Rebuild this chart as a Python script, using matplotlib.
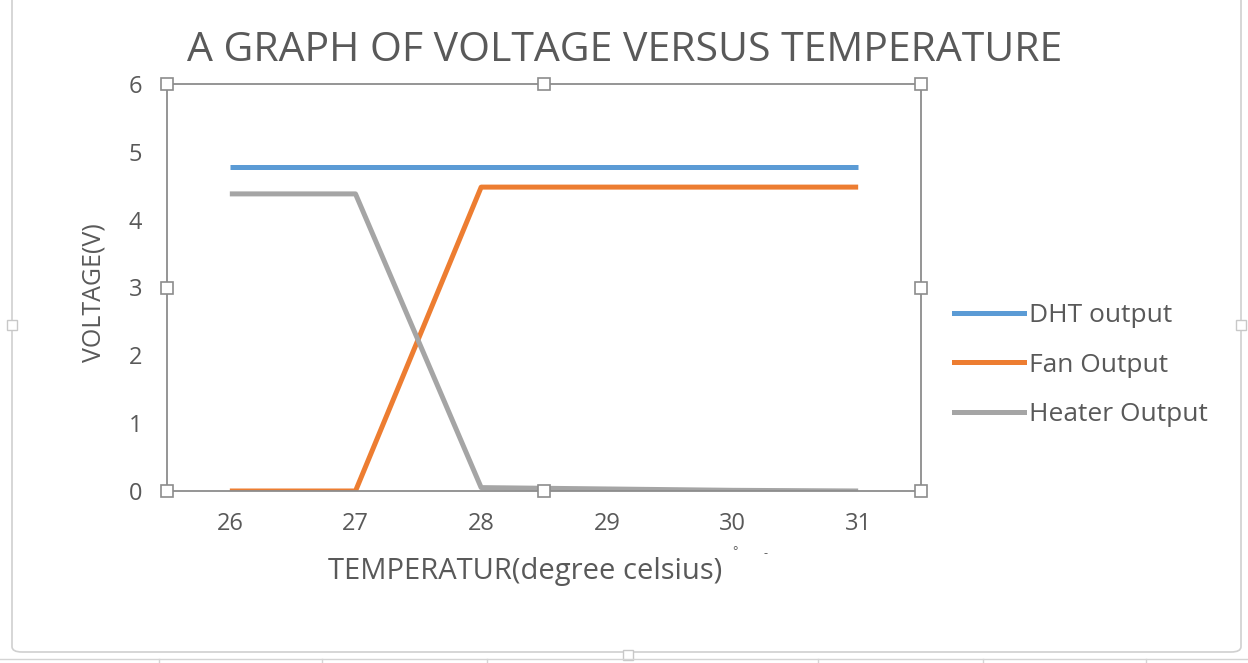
import matplotlib
matplotlib.use("Agg")
import matplotlib.pyplot as plt
from matplotlib.patches import FancyBboxPatch
from matplotlib.lines import Line2D

temperatures = [26, 27, 28, 29, 30, 31]
dht_output = [4.78, 4.78, 4.78, 4.78, 4.78, 4.78]
fan_output = [0.0, 0.0, 4.48, 4.48, 4.48, 4.48]
heater_output = [4.38, 4.38, 0.05, 0.03, 0.01, 0.0]
series_names = ["DHT output", "Fan Output", "Heater Output"]
y_ticks = [0, 1, 2, 3, 4, 5, 6]

colors = ["#5B9BD5", "#ED7D31", "#A5A5A5"]
text_color = "#595959"
font = ["Open Sans", "DejaVu Sans"]
plt.rcParams["font.family"] = font

W, H = 1248, 663
fig = plt.figure(figsize=(W / 100, H / 100), dpi=100)

def fx(px):
    return px / W

def fy(py):
    return 1 - py / H

# outer chart frame (top edge lies above the picture)
frame = FancyBboxPatch((fx(12), fy(652)), fx(1241) - fx(12), fy(-20) - fy(652),
                       boxstyle="round,pad=0,rounding_size=0.008",
                       transform=fig.transFigure, fill=False,
                       edgecolor="#D0D0D0", linewidth=1.2)
fig.patches.append(frame)
# frame handles
fig.add_artist(Line2D([fx(12), fx(1241), fx(628)], [fy(325), fy(325), fy(655)],
                      ls="none", marker="s", ms=7, mfc="white", mec="#C8C8C8",
                      mew=1.0, transform=fig.transFigure))
# spreadsheet grid below the chart
fig.add_artist(Line2D([0, 1], [fy(659), fy(659)], color="#D4D4D4", lw=1.0,
                      transform=fig.transFigure))
for gx in [159, 322, 487, 818, 983, 1146]:
    fig.add_artist(Line2D([fx(gx), fx(gx)], [fy(659), 0], color="#D4D4D4",
                          lw=1.0, transform=fig.transFigure))

ax = fig.add_axes([fx(167), fy(491), fx(921) - fx(167), fy(84) - fy(491)])
for s, c, name in zip([dht_output, fan_output, heater_output], colors, series_names):
    ax.plot(temperatures, s, color=c, lw=3.6, solid_capstyle="butt", label=name)

ax.set_xlim(25.5, 31.5)
ax.set_ylim(0, 6)
ax.set_xticks(temperatures)
ax.set_yticks(y_ticks)
ax.tick_params(length=0, labelsize=17, colors=text_color)
ax.tick_params(axis="x", pad=15)
ax.tick_params(axis="y", pad=18)
for sp in ax.spines.values():
    sp.set_color("#8C8C8C")
    sp.set_linewidth(1.3)

# selection handles of the plot area
hx = [0, 0.5, 1, 0, 1, 0, 0.5, 1]
hy = [1, 1, 1, 0.5, 0.5, 0, 0, 0]
ax.plot(hx, hy, ls="none", marker="s", ms=9, mfc="white", mec="#8C8C8C",
        mew=1.2, transform=ax.transAxes, clip_on=False, zorder=5)

fig.text(fx(625), fy(51), "A GRAPH OF VOLTAGE VERSUS TEMPERATURE",
         ha="center", va="center", fontsize=29.5, color=text_color)
fig.text(fx(94), fy(293), "VOLTAGE(V)", rotation=90, ha="center",
         va="center", fontsize=18, color=text_color)
fig.text(fx(525), fy(571), "TEMPERATUR(degree celsius)", ha="center",
         va="center", fontsize=21, color=text_color)
fig.text(fx(735), fy(552), "°", ha="center", va="center", fontsize=9,
         color=text_color)
fig.text(fx(766), fy(554), "-", ha="center", va="center", fontsize=9,
         color=text_color)

handles = [Line2D([], [], color=c, lw=3.6) for c in colors]
fig.legend(handles, series_names, loc="center left",
           bbox_to_anchor=(fx(930), fy(365)), frameon=False,
           fontsize=19, labelcolor=text_color, handlelength=2.65,
           handletextpad=0.2, labelspacing=0.92)

fig.savefig("out.png", dpi=100)
